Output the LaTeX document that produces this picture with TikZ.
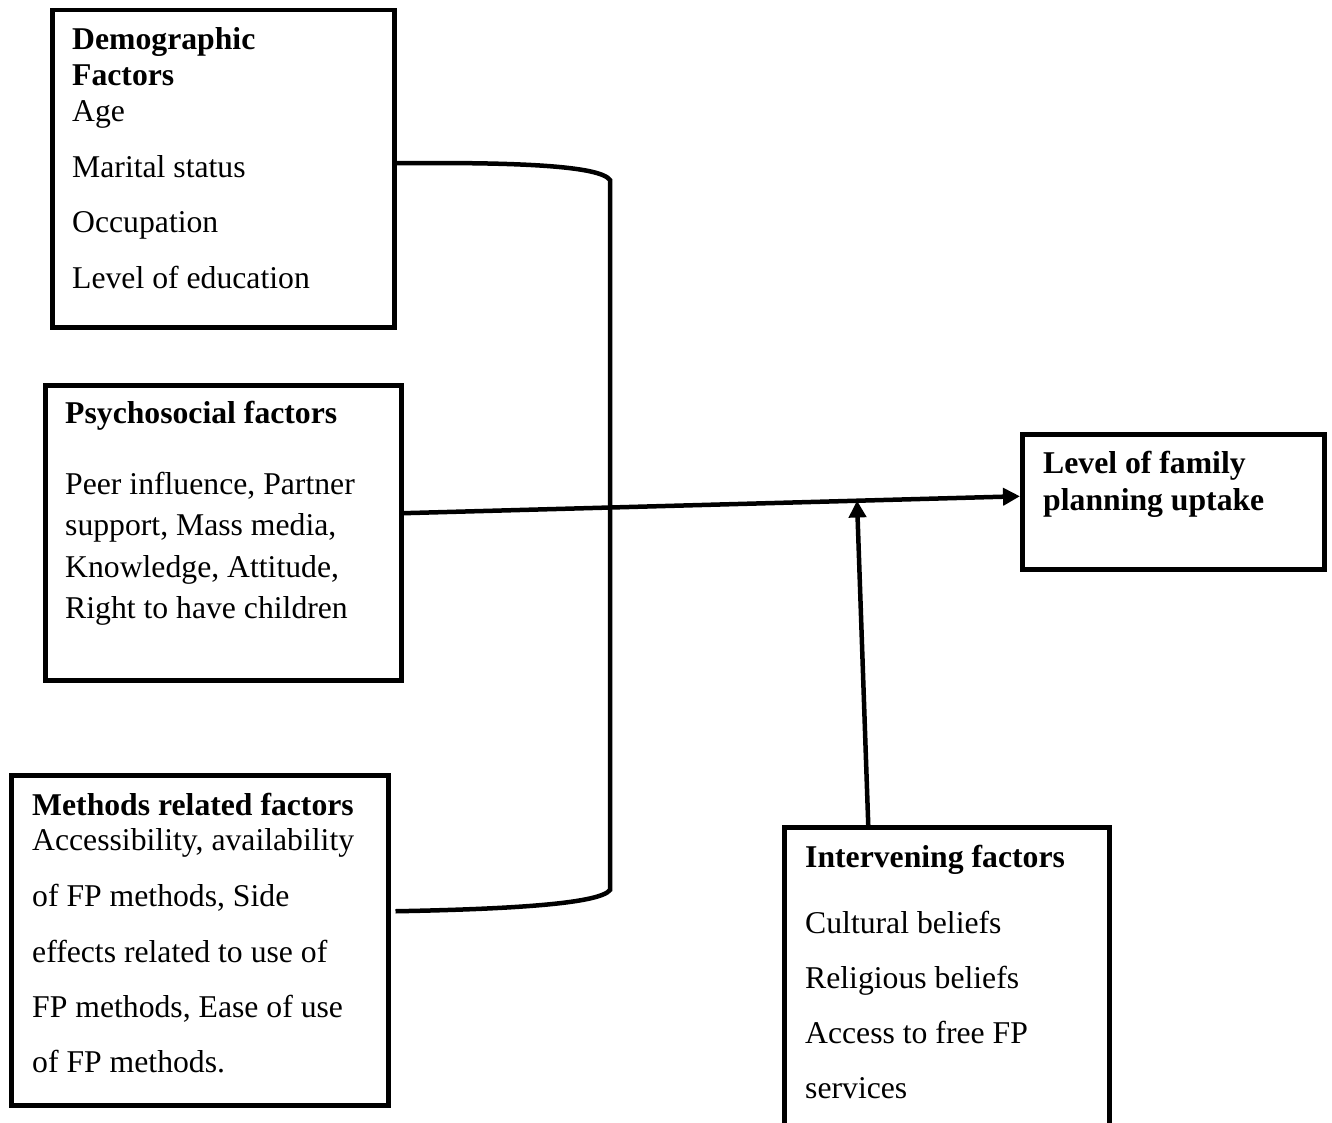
\documentclass[tikz,border=0pt]{standalone}
\usepackage{fontspec}
\setmainfont{Liberation Serif}
\usetikzlibrary{arrows.meta}
\newcommand{\fs}{\fontsize{31.7}{38}\selectfont}
\tikzset{
  box/.style={draw, line width=4.5pt, inner sep=0pt, anchor=north west},
  txt/.style={anchor=base west, inner sep=0pt, font=\fs},
  hd/.style={anchor=base west, inner sep=0pt, font=\fs\bfseries},
  conn/.style={line width=4.5pt},
  arr/.style={line width=4.5pt, -{Triangle[length=17pt,width=17pt]}}
}
\begin{document}
\begin{tikzpicture}[x=1pt,y=-1pt]
\useasboundingbox (0,0) rectangle (1332,1123);
\clip (0,0) rectangle (1332,1123);
% boxes
\node[box, minimum width=342pt, minimum height=317pt] (demo) at (50,8) {};
\node[box, minimum width=356pt, minimum height=295pt] (psy) at (43,383) {};
\node[box, minimum width=377pt, minimum height=330pt] (meth) at (9,773) {};
\node[box, minimum width=302pt, minimum height=135pt] (lvl) at (1020,432) {};
\node[box, minimum width=325pt, minimum height=310pt] (intv) at (782,825) {};
% demographic text
\node[hd] (d1) at (72,50) {Demographic};
\node[hd] (d2) at (72,86) {Factors};
\node[txt] (d3) at (72,122) {Age};
\node[txt] (d4) at (72,178) {Marital status};
\node[txt] (d5) at (72,233) {Occupation};
\node[txt] (d6) at (72,288) {Level of education};
% psychosocial text
\node[hd] (p1) at (65,423) {Psychosocial factors};
\node[txt] (p2) at (65,494) {Peer influence, Partner};
\node[txt] (p3) at (65,535) {support, Mass media,};
\node[txt] (p4) at (65,577) {Knowledge, Attitude,};
\node[txt] (p5) at (65,618) {Right to have children};
% methods text
\node[hd] (m1) at (32,815) {Methods related factors};
\node[txt] (m2) at (32,850) {Accessibility, availability};
\node[txt] (m3) at (32,906) {of FP methods, Side};
\node[txt] (m4) at (32,962) {effects related to use of};
\node[txt] (m5) at (32,1017) {FP methods, Ease of use};
\node[txt] (m6) at (32,1072) {of FP methods.};
% level text
\node[hd] (l1) at (1043,473) {Level of family};
\node[hd] (l2) at (1043,510) {planning uptake};
% intervening text
\node[hd] (i1) at (805,867) {Intervening factors};
\node[txt] (i2) at (805,933) {Cultural beliefs};
\node[txt] (i3) at (805,988) {Religious beliefs};
\node[txt] (i4) at (805,1043) {Access to free FP};
\node[txt] (i5) at (805,1098) {services};
% bracket
\draw[conn] ([yshift=5.5pt]demo.east) .. controls (520,162) and (600,166) .. (610,180)
  -- (610,890) .. controls (600,903) and (520,909) .. ([xshift=5pt,yshift=29pt]meth.east);
% main arrow
\draw[arr] ([xshift=-2pt,yshift=19.5pt]psy.east) -- ([yshift=5.5pt]lvl.west);
% intervening arrow
\coordinate (join) at (857,500.5);
\draw[arr] ([xshift=-78.5pt]intv.north) -- (join);
\end{tikzpicture}
\end{document}
